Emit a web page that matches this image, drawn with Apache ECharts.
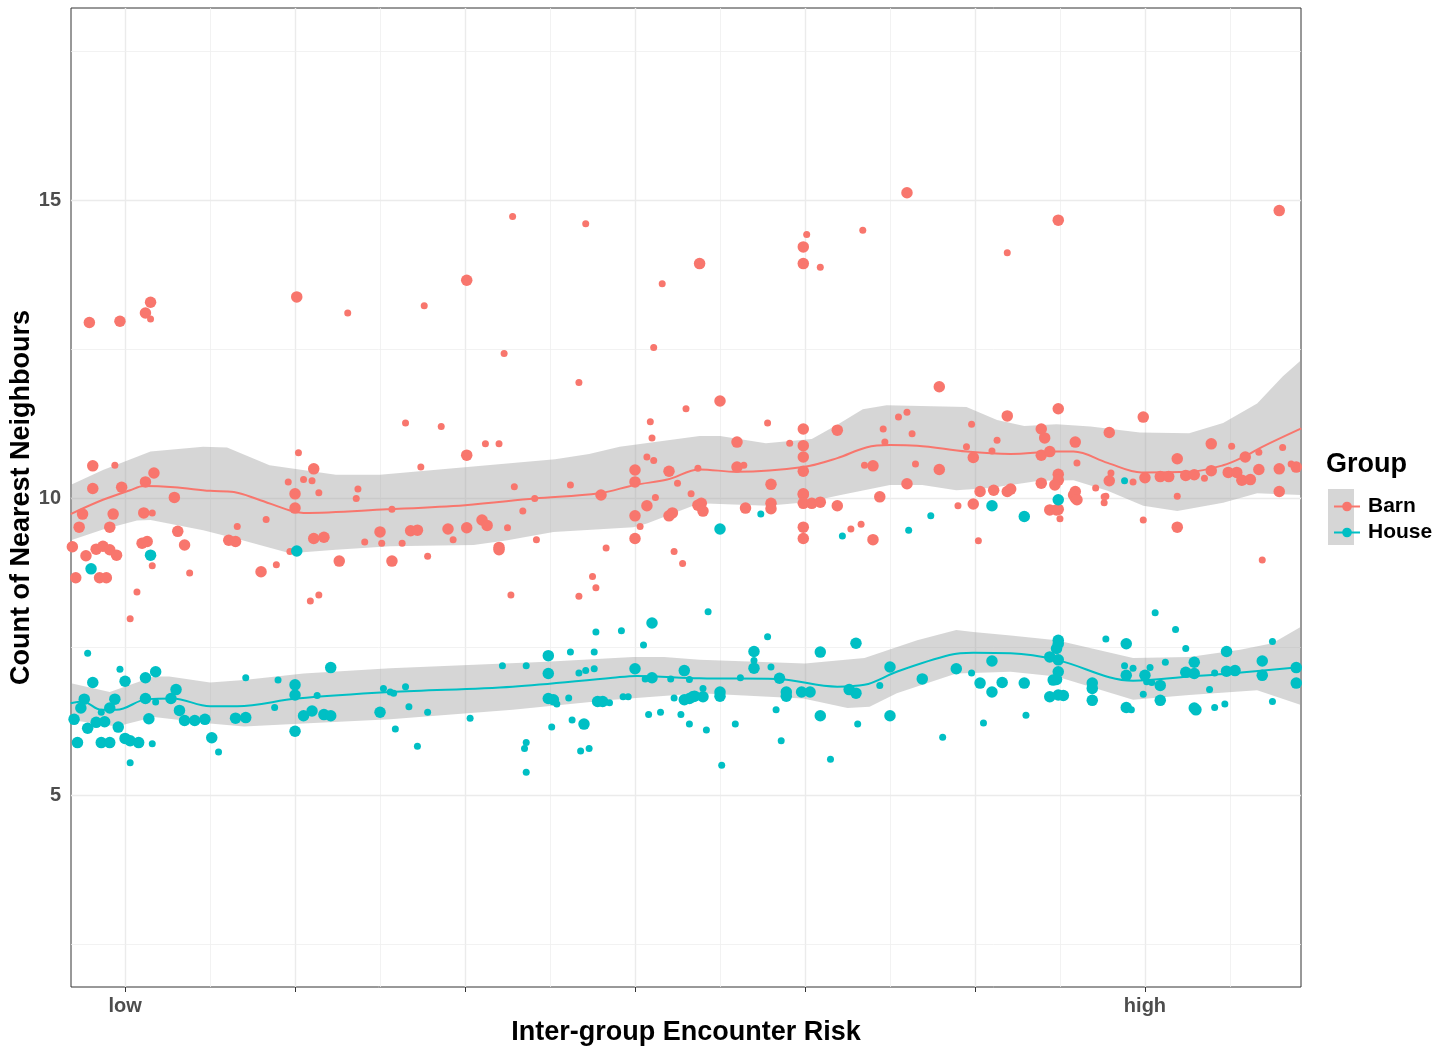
<!DOCTYPE html>
<html><head><meta charset="utf-8">
<script src="https://cdn.jsdelivr.net/npm/echarts@6/dist/echarts.min.js"></script>
<style>html,body{margin:0;padding:0;background:#fff}#chart{width:1452px;height:1053px}</style>
</head><body><div id="chart"></div>
<script>
// ---------- axes ----------
const xTicks = [0, 1, 2, 3, 4, 5, 6];
const xTickLabels = { 0: 'low', 6: 'high' };
const xMajorGrid = [0, 1, 2, 3, 4, 5, 6];
const xMinorGrid = [0.5, 1.5, 2.5, 3.5, 4.5, 5.5, 6.5];
const yTicks = [5, 10, 15];
const yMajorGrid = [5, 10, 15];
const yMinorGrid = [2.5, 7.5, 12.5, 17.5];
const groups = ['Barn', 'House'];

// ---------- observations (x = encounter risk, y = count) ----------
const barnLarge = [[-0.21,12.95],[-0.03,12.97],[0.12,13.11],[0.15,13.29],[1.01,13.38],
[-0.19,10.54],[-0.19,10.16],[-0.02,10.18],[0.12,10.27],[0.17,10.42],[0.29,10.01],[1.11,10.49],[1.0,10.07],
[3.38,13.94],[2.01,13.66],[2.01,10.72],[3.0,10.47],[3.0,10.27],[3.20,10.45],[2.80,10.05],
[4.60,15.13],[3.99,14.22],[3.99,13.94],[3.50,11.63],[4.79,11.87],[3.99,11.16],[4.19,11.14],[3.60,10.94],[3.99,10.88],[3.99,10.69],[5.19,11.38],[4.99,10.68],[3.60,10.52],[3.99,10.45],[4.40,10.54],[4.79,10.48],[3.80,10.23],[4.60,10.24],[3.99,10.07],[4.44,10.02],[5.03,10.11],[5.11,10.13],[5.19,10.11],
[5.49,14.67],[6.79,14.83],[5.49,11.5],[5.99,11.36],[5.39,11.16],[5.41,11.01],[5.59,10.94],[5.79,11.1],[6.39,10.91],[5.39,10.72],[5.44,10.78],[6.19,10.66],[6.59,10.69],[5.49,10.40],[5.49,10.30],[5.47,10.22],[5.79,10.29],[6.0,10.34],[6.09,10.36],[6.14,10.36],[6.24,10.38],[6.29,10.39],[6.39,10.46],[6.49,10.43],[6.54,10.43],[6.57,10.30],[6.62,10.31],[6.67,10.48],[6.79,10.49],[6.89,10.52],[6.79,10.11],[5.21,10.15],[5.39,10.25],[5.59,10.11],[5.59,10.0],
[-0.25,9.73],[-0.07,9.73],[0.11,9.75],[-0.27,9.51],[-0.09,9.51],[0.31,9.44],[-0.31,9.18],[-0.23,9.03],[-0.17,9.14],[-0.13,9.19],[-0.09,9.13],[-0.05,9.04],[0.10,9.24],[0.13,9.27],[0.35,9.21],[-0.29,8.66],[-0.15,8.66],[-0.11,8.66],[0.61,9.29],[0.65,9.27],[0.80,8.76],[1.0,9.83],[1.11,9.32],[1.17,9.34],[1.26,8.94],[1.50,9.43],
[1.68,9.45],[1.72,9.46],[1.57,8.94],[1.90,9.48],[2.01,9.50],[2.10,9.63],[2.13,9.54],[2.20,9.17],[2.20,9.13],[3.0,9.70],[3.0,9.32],[3.07,9.87],[3.20,9.70],[3.22,9.75],[3.37,9.88],
[3.39,9.91],[3.40,9.78],[3.65,9.83],[3.80,9.91],[3.80,9.82],[3.99,10.06],[3.99,9.91],[4.04,9.91],[4.09,9.93],[4.19,9.87],[3.99,9.51],[3.99,9.32],[4.40,9.30],[4.99,9.90],
[5.44,9.80],[5.48,9.80],[5.49,9.81],[5.58,10.05],[5.60,9.97],[6.19,9.51]];
const barnSmall = [[0.15,13.01],[1.31,13.11],[-0.06,10.55],[1.02,10.76],[0.96,10.27],[1.05,10.31],[1.10,10.29],[1.14,10.09],[1.37,10.15],[1.36,9.99],
[2.28,14.73],[2.71,14.61],[3.16,13.6],[1.76,13.23],[2.23,12.43],[3.11,12.53],[2.67,11.94],[1.65,11.26],[1.86,11.2],[3.30,11.5],[3.09,11.28],[3.10,11.01],[2.12,10.91],[2.20,10.91],[1.74,10.52],[2.29,10.19],[2.62,10.22],[3.07,10.69],[3.11,10.63],[3.25,10.25],[3.37,10.5],[2.41,9.99],[3.12,10.01],[3.33,10.07],
[4.01,14.43],[4.09,13.88],[4.34,14.5],[5.19,14.12],[3.78,11.26],[3.91,10.92],[4.55,11.36],[4.60,11.44],[4.46,11.16],[4.47,10.94],[4.63,11.08],[4.98,11.24],[5.13,10.97],[4.95,10.86],[5.10,10.79],[3.64,10.55],[4.35,10.55],[4.65,10.57],
[6.51,10.87],[6.81,10.85],[5.60,10.59],[6.67,10.77],[5.80,10.42],[5.93,10.27],[6.35,10.33],[6.86,10.57],[5.71,10.17],[5.77,10.03],[6.19,10.03],
[0.16,9.75],[0.16,8.86],[0.38,8.74],[0.07,8.42],[0.03,7.97],[0.66,9.52],[0.83,9.64],[0.89,8.88],[0.97,9.10],[1.41,9.26],[1.51,9.24],[1.09,8.27],[1.14,8.37],
[1.57,9.81],[1.63,9.24],[1.78,9.02],[1.93,9.30],[2.25,9.50],[2.34,9.78],[2.42,9.30],[2.27,8.37],[2.67,8.35],[2.75,8.68],[2.77,8.49],[2.83,9.16],[3.03,9.52],[3.23,9.10],[3.28,8.90],
[4.27,9.48],[4.33,9.56],[4.90,9.87],[5.02,9.28],
[5.50,9.65],[5.76,10.02],[5.76,9.92],[5.99,9.63],[6.69,8.96]];
const houseLarge = [[0.15,9.04],[-0.20,8.81],[1.01,9.11],[3.50,9.48],[5.10,9.87],[5.29,9.69],[5.49,9.97],
[-0.19,6.90],[0.0,6.92],[0.12,6.98],[0.18,7.08],[-0.24,6.62],[-0.26,6.47],[-0.30,6.28],[-0.09,6.47],[-0.06,6.62],[0.12,6.63],[0.27,6.63],[0.30,6.78],[0.32,6.43],[0.14,6.29],[0.35,6.26],[0.41,6.26],[0.47,6.28],[-0.17,6.23],[-0.12,6.24],[-0.04,6.15],[-0.22,6.13],[-0.28,5.89],[-0.14,5.89],[-0.09,5.89],[0.0,5.96],[0.03,5.92],[0.08,5.89],[0.51,5.97],[0.65,6.30],[0.71,6.31],[1.0,6.86],[1.0,6.69],[1.0,6.08],[1.05,6.34],[1.10,6.42],[1.17,6.36],[1.21,6.34],[1.21,7.15],[1.50,6.40],
[2.49,7.35],[2.49,7.05],[2.49,6.63],[2.52,6.61],[2.70,6.20],[2.78,6.58],[2.81,6.58],[3.0,7.13],[3.10,7.90],[3.10,6.98],[3.29,7.10],[3.29,6.61],[3.32,6.63],[3.35,6.67],
[3.70,7.42],[3.70,7.14],[3.85,6.97],[4.09,7.41],[4.30,7.56],[3.89,6.74],[3.89,6.67],[3.98,6.74],[4.03,6.74],[3.50,6.74],[3.50,6.67],[3.34,6.66],[3.40,6.66],[4.26,6.78],[4.30,6.72],[4.50,7.16],[4.69,6.96],[4.89,7.13],[5.03,6.89],[5.10,6.74],[5.16,6.90],[5.10,7.26],[4.09,6.34],[4.50,6.34],
[5.89,7.55],[6.48,7.42],[5.49,7.61],[5.49,7.55],[5.48,7.47],[5.44,7.33],[5.49,7.28],[5.29,6.89],[5.49,7.08],[5.48,6.95],[5.46,6.94],[5.44,6.66],[5.49,6.69],[5.52,6.68],[5.69,6.89],[5.69,6.80],[5.69,6.60],[5.89,7.02],[6.0,7.02],[5.89,6.48],[6.09,6.85],[6.09,6.60],[6.29,7.24],[6.24,7.07],[6.29,7.05],[6.29,6.47],[6.30,6.44],[6.48,7.09],[6.53,7.10],[6.69,7.26],[6.69,7.02],[6.89,7.15],[6.89,6.89]];
const houseSmall = [[-0.22,7.39],[-0.03,7.12],[-0.14,6.40],[0.18,6.57],[0.16,5.87],[0.03,5.55],[0.55,5.73],[0.71,6.98],[0.88,6.48],[0.90,6.94],[1.13,6.68],[1.52,6.80],
[5.88,10.29],[3.74,9.73],[4.22,9.36],[4.61,9.46],[4.74,9.70],
[1.56,6.74],[1.58,6.72],[1.65,6.83],[1.67,6.49],[1.59,6.12],[1.72,5.83],[1.78,6.40],[2.03,6.30],[2.22,7.18],[2.36,7.18],[2.36,5.89],[2.35,5.79],[2.36,5.39],[2.54,6.54],[2.51,6.15],[2.62,7.41],[2.61,6.64],[2.63,6.27],[2.67,7.06],[2.71,7.10],[2.76,7.13],[2.76,7.41],[2.77,7.75],[2.68,5.75],[2.73,5.79],[2.85,6.56],[2.92,7.77],[2.93,6.66],[2.96,6.66],[3.05,7.53],[3.06,6.96],[3.08,6.36],[3.15,6.40],[3.21,6.96],[3.23,6.64],[3.27,6.36],[3.32,6.95],[3.32,6.20],
[3.43,8.09],[3.78,7.67],[3.70,7.27],[3.80,7.16],[3.62,6.98],[3.40,6.80],[4.44,6.85],[4.98,7.06],[3.83,6.44],[3.59,6.20],[4.31,6.20],[3.42,6.10],[3.86,5.92],[3.51,5.51],[4.15,5.61],[4.81,5.98],[5.05,6.22],
[6.06,8.07],[6.18,7.79],[5.77,7.63],[6.24,7.47],[6.75,7.59],[5.30,6.35],[5.88,7.18],[5.93,7.14],[6.03,7.15],[6.01,6.91],[6.04,6.90],[5.99,6.70],[5.92,6.44],[6.12,7.24],[6.38,6.78],[6.41,7.06],[6.41,6.48],[6.47,6.54],[6.75,6.58]];

// ---------- loess fits and confidence bands ----------
const barnFit = [[-0.32,9.73],[-0.13,9.97],[0.03,10.13],[0.11,10.20],[0.29,10.18],[0.5,10.12],[0.64,10.10],[0.78,9.98],[0.97,9.79],[1.05,9.75],[1.54,9.81],[2.0,9.88],[2.41,9.99],[2.79,10.08],[3.0,10.22],[3.19,10.31],[3.38,10.48],[3.60,10.44],[3.99,10.52],[4.19,10.67],[4.36,10.85],[4.5,10.89],[4.66,10.88],[4.95,10.78],[5.21,10.74],[5.48,10.78],[5.58,10.78],[5.78,10.59],[5.98,10.43],[6.26,10.44],[6.46,10.55],[6.58,10.69],[6.69,10.86],[6.92,11.17]];
const barnUpper = [[-0.32,10.22],[-0.13,10.47],[0.15,10.78],[0.46,10.86],[0.60,10.85],[0.85,10.55],[1.24,10.39],[1.5,10.39],[2.53,10.65],[2.73,10.74],[2.91,10.86],[3.38,11.04],[3.50,11.04],[3.77,10.92],[4.04,10.99],[4.19,11.23],[4.34,11.49],[4.48,11.56],[4.95,11.53],[5.13,11.31],[5.29,11.21],[5.48,11.24],[5.68,11.2],[5.97,11.10],[6.26,11.09],[6.46,11.26],[6.66,11.59],[6.81,12.04],[6.92,12.32]];
const barnLower = [[-0.32,9.29],[-0.13,9.47],[0.07,9.62],[0.15,9.63],[0.46,9.46],[0.69,9.29],[0.97,9.07],[1.24,9.13],[1.56,9.19],[2.05,9.21],[2.25,9.29],[2.52,9.43],[2.99,9.51],[3.07,9.57],[3.38,9.91],[3.78,9.87],[4.01,9.93],[4.21,10.05],[4.5,10.22],[4.69,10.22],[4.89,10.13],[5.09,10.17],[5.38,10.29],[5.58,10.30],[5.78,10.12],[5.99,9.87],[6.19,9.78],[6.46,9.92],[6.66,10.08],[6.92,10.05]];
const houseFit = [[-0.32,6.55],[-0.25,6.58],[-0.14,6.44],[-0.05,6.44],[0.13,6.62],[0.28,6.63],[0.5,6.50],[0.66,6.50],[1.01,6.63],[1.56,6.74],[2.28,6.83],[2.87,6.98],[3.01,7.01],[3.38,6.97],[3.83,6.96],[4.19,6.83],[4.35,6.86],[4.54,7.08],[4.85,7.36],[4.99,7.40],[5.21,7.39],[5.48,7.28],[5.93,6.93],[6.26,7.0],[6.50,7.05],[6.92,7.16]];
const houseUpper = [[-0.32,6.89],[-0.09,6.74],[0.17,7.0],[0.26,7.0],[0.5,6.90],[0.70,6.94],[1.05,7.05],[1.56,7.14],[2.48,7.25],[2.99,7.33],[3.17,7.33],[3.38,7.28],[4.0,7.22],[4.35,7.31],[4.66,7.61],[4.89,7.78],[4.99,7.75],[5.21,7.69],[5.48,7.61],[5.93,7.31],[6.26,7.33],[6.56,7.45],[6.75,7.56],[6.92,7.84]];
const houseLower = [[-0.32,6.27],[-0.05,6.16],[0.17,6.32],[0.5,6.21],[0.70,6.16],[1.05,6.21],[1.56,6.28],[2.28,6.44],[2.87,6.61],[3.38,6.72],[3.99,6.63],[4.25,6.47],[4.38,6.49],[4.54,6.72],[4.89,7.05],[5.21,7.08],[5.48,7.0],[5.93,6.61],[6.26,6.69],[6.66,6.77],[6.92,6.52]];

// ---------- styling ----------
const FONT = '"Liberation Sans", Arial, sans-serif';
const COLORS = { Barn: '#F8766D', House: '#00BFC4' };
const BAND = 'rgba(153,153,153,0.4)';

function bandSeries(upper, lower) {
  return {
    type: 'custom', silent: true, z: 2, clip: true,
    data: [upper[0]],
    renderItem: function (params, api) {
      const pts = upper.map(p => api.coord(p)).concat(lower.slice().reverse().map(p => api.coord(p)));
      return { type: 'polygon', shape: { points: pts }, style: { fill: BAND } };
    }
  };
}
function fitSeries(name, data) {
  return {
    name: name, type: 'line', data: data, smooth: 0.35, showSymbol: false,
    symbol: 'circle', symbolSize: 9, z: 3, silent: true,
    itemStyle: { color: COLORS[name] },
    lineStyle: { color: COLORS[name], width: 2 }
  };
}
function pointSeries(name, data, size) {
  return {
    name: name, type: 'scatter', data: data, symbolSize: size, z: 4, silent: true,
    itemStyle: { color: COLORS[name], opacity: 1 }
  };
}
const gridLines = [];
xMajorGrid.forEach(v => gridLines.push({ xAxis: v, lineStyle: { color: '#EBEBEB', width: 1.4, type: 'solid' } }));
xMinorGrid.forEach(v => gridLines.push({ xAxis: v, lineStyle: { color: '#EFEFEF', width: 0.8, type: 'solid' } }));
yMajorGrid.forEach(v => gridLines.push({ yAxis: v, lineStyle: { color: '#EBEBEB', width: 1.4, type: 'solid' } }));
yMinorGrid.forEach(v => gridLines.push({ yAxis: v, lineStyle: { color: '#EFEFEF', width: 0.8, type: 'solid' } }));

const chart = echarts.init(document.getElementById('chart'), null, { renderer: 'canvas' });
chart.setOption({
  animation: false,
  backgroundColor: '#ffffff',
  textStyle: { fontFamily: FONT },
  grid: { left: 71, right: 151, top: 8, bottom: 66, show: true, borderColor: '#333333', borderWidth: 1,
    backgroundColor: 'transparent', containLabel: false, outerBoundsMode: 'none' },
  title: { text: 'Group', left: 1326, top: 451, padding: 0,
    textStyle: { fontSize: 27, fontWeight: 'bold', color: '#000', fontFamily: FONT } },
  legend: {
    data: groups, orient: 'vertical', left: 1328, top: 491, itemWidth: 26, itemHeight: 12, itemGap: 5,
    selectedMode: false,
    textStyle: { fontSize: 21, fontWeight: 'bold', color: '#000', fontFamily: FONT, padding: [0, 0, 0, 3] }
  },
  graphic: [{ type: 'rect', left: 1328, top: 489, shape: { width: 26, height: 56 }, style: { fill: '#D6D6D6' }, z: 0, silent: true }],
  xAxis: {
    type: 'value', min: -0.318, max: 6.918,
    name: 'Inter-group Encounter Risk', nameLocation: 'middle', nameGap: 32, nameMoveOverlap: false,
    nameTextStyle: { fontSize: 27, fontWeight: 'bold', color: '#000', fontFamily: FONT },
    axisLine: { show: false },
    axisTick: { show: true, customValues: xTicks, length: 5, lineStyle: { color: '#333333', width: 1 } },
    axisLabel: { customValues: xTicks, margin: 9, fontSize: 20, fontWeight: 'bold', color: '#4D4D4D', fontFamily: FONT,
      formatter: v => (xTickLabels[v] !== undefined ? xTickLabels[v] : '') },
    splitLine: { show: false }, minorSplitLine: { show: false }
  },
  yAxis: {
    type: 'value', min: 1.782, max: 18.235,
    name: 'Count of Nearest Neighbours', nameLocation: 'middle', nameGap: 36, nameMoveOverlap: false,
    nameTextStyle: { fontSize: 27, fontWeight: 'bold', color: '#000', fontFamily: FONT },
    axisLine: { show: false },
    axisTick: { show: true, customValues: yTicks, length: 5, lineStyle: { color: '#333333', width: 1 } },
    axisLabel: { customValues: yTicks, margin: 10, fontSize: 20, fontWeight: 'bold', color: '#4D4D4D', fontFamily: FONT },
    splitLine: { show: false }
  },
  series: [
    { type: 'scatter', data: [], silent: true, z: 1,
      markLine: { silent: true, symbol: ['none', 'none'], label: { show: false }, z: 1, animation: false, data: gridLines } },
    bandSeries(barnUpper, barnLower),
    bandSeries(houseUpper, houseLower),
    fitSeries('Barn', barnFit),
    fitSeries('House', houseFit),
    pointSeries('Barn', barnLarge, 11.5),
    pointSeries('Barn', barnSmall, 7),
    pointSeries('House', houseLarge, 11.5),
    pointSeries('House', houseSmall, 7)
  ]
});
</script></body></html>
